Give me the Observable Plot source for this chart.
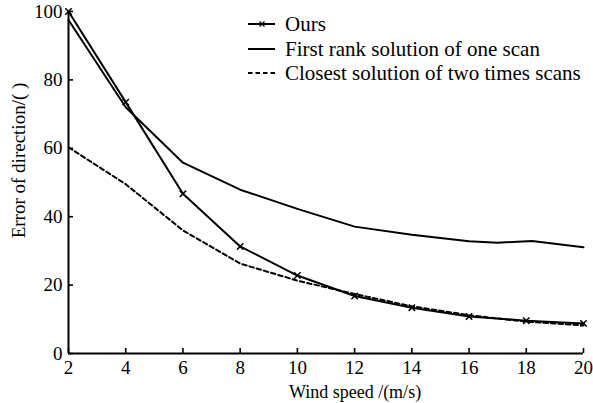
<!DOCTYPE html>
<html><head><meta charset="utf-8">
<script src="https://cdn.jsdelivr.net/npm/d3@7"></script>
<script src="https://cdn.jsdelivr.net/npm/@observablehq/plot@0.6"></script>
<style>
body{margin:0;background:#fff}
#wrap{position:relative;width:593px;height:403px;font-family:"Liberation Serif","Times New Roman",serif;color:#000}
#legend{position:absolute;left:248px;top:12px;font-size:21px}
#legend .row{height:24.5px;line-height:24.5px;display:flex;align-items:center;white-space:nowrap}
#legend svg{width:27px;height:10px;margin-right:10px;flex:none}
</style>
</head><body><div id="wrap"><div id="legend"></div></div>
<script>
// Data
const windSpeed = [2, 4, 6, 8, 10, 12, 14, 16, 18, 20];
const ours = [100, 73.5, 46.7, 31.3, 22.8, 16.8, 13.4, 10.8, 9.6, 8.8];
const closest = [60.3, 49.5, 36, 26.3, 21.3, 17.4, 13.8, 11.2, 9.3, 8.2];
const firstRankSpeed = [2, 4, 6, 8, 10, 12, 14, 16, 17, 18.2, 20];
const firstRank = [97.5, 72, 55.8, 47.9, 42.3, 37.1, 34.7, 32.8, 32.4, 32.9, 31.1];
const xTicks = [2, 4, 6, 8, 10, 12, 14, 16, 18, 20];
const yTicks = [0, 20, 40, 60, 80, 100];
const seriesNames = ["Ours", "First rank solution of one scan", "Closest solution of two times scans"];
const xLabel = "Wind speed /(m/s)";
const yLabel = "Error of direction/( )";

const oursData = windSpeed.map((x, i) => ({x, y: ours[i]}));
const closestData = windSpeed.map((x, i) => ({x, y: closest[i]}));
const firstData = firstRankSpeed.map((x, i) => ({x, y: firstRank[i]}));

const W = 593, H = 403, mL = 68, mR = 10, mT = 11, mB = 50;
const frameW = W - mL - mR, frameH = H - mT - mB;
const font = "Liberation Serif, Times New Roman, serif";

const chart = Plot.plot({
  width: W, height: H,
  marginLeft: mL, marginRight: mR, marginTop: mT, marginBottom: mB,
  style: {fontFamily: font, fontSize: "19px", color: "#000", background: "#fff", overflow: "visible"},
  x: {domain: [2, 20]},
  y: {domain: [0, 100]},
  marks: [
    Plot.axisX(xTicks, {tickSize: 0, tickPadding: 7, label: null, tickFormat: d => d, fontSize: 19}),
    Plot.axisY(yTicks, {tickSize: 0, tickPadding: 6, label: null, tickFormat: d => d, fontSize: 19}),
    Plot.ruleX(xTicks, {x: d => d, insetTop: frameH - 5, stroke: "#000", strokeWidth: 1.6}),
    Plot.ruleY(yTicks, {y: d => d, insetRight: frameW - 5, stroke: "#000", strokeWidth: 1.6}),
    Plot.ruleX([2], {stroke: "#000", strokeWidth: 2}),
    Plot.ruleY([0], {stroke: "#000", strokeWidth: 2}),
    Plot.line(firstData, {x: "x", y: "y", stroke: "#000", strokeWidth: 2}),
    Plot.line(closestData, {x: "x", y: "y", stroke: "#000", strokeWidth: 2, strokeDasharray: "4.5,3"}),
    Plot.line(oursData, {x: "x", y: "y", stroke: "#000", strokeWidth: 2}),
    Plot.dot(oursData, {x: "x", y: "y", symbol: "times", r: 3, stroke: "#000", strokeWidth: 1.5}),
    Plot.text([xLabel], {frameAnchor: "bottom", textAnchor: "middle", lineAnchor: "middle", dy: 39, dx: 29, fontSize: 18, fill: "#000"}),
    Plot.text([yLabel], {frameAnchor: "left", textAnchor: "middle", lineAnchor: "middle", rotate: -90, dx: -50, dy: -22, fontSize: 19, fill: "#000"})
  ]
});
document.getElementById("wrap").prepend(chart);

// Legend
const legend = document.getElementById("legend");
const samples = [
  '<line x1="0" y1="5" x2="27" y2="5" stroke="#000" stroke-width="2"/><path d="M11.5,2.5L16.5,7.5M16.5,2.5L11.5,7.5" stroke="#000" stroke-width="1.3"/>',
  '<line x1="0" y1="5" x2="27" y2="5" stroke="#000" stroke-width="2"/>',
  '<line x1="0" y1="5" x2="27" y2="5" stroke="#000" stroke-width="2" stroke-dasharray="4.5,3"/>'
];
seriesNames.forEach((name, i) => {
  const row = document.createElement("div");
  row.className = "row";
  row.innerHTML = `<svg viewBox="0 0 27 10">${samples[i]}</svg><span>${name}</span>`;
  legend.appendChild(row);
});
</script>
</body></html>
